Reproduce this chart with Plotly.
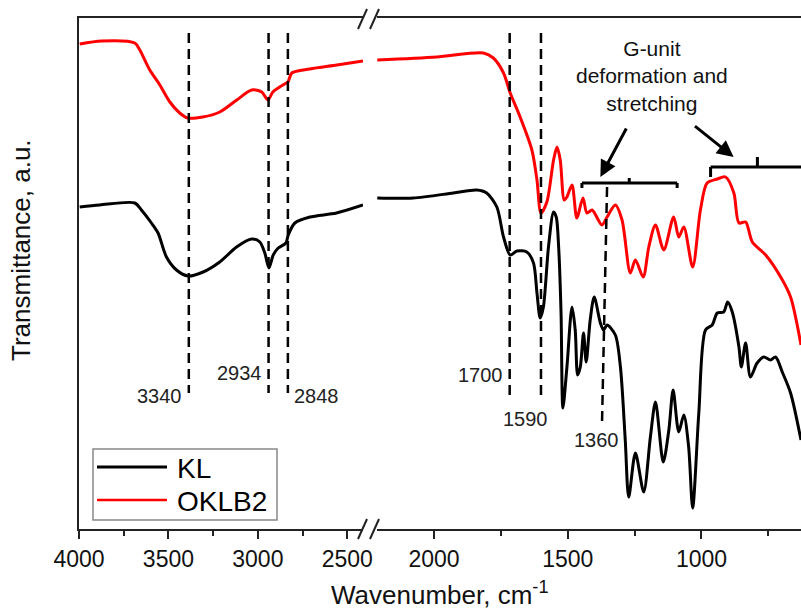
import plotly.graph_objects as go

# ---------------- data (wavenumber cm-1, transmittance a.u.) ----------------
KL_LEFT_WN = [3996, 3884, 3688, 3651, 3595, 3558, 3511, 3455, 3390, 3306, 3213, 3119, 3035,
              2989, 2961, 2938, 2914, 2886, 2843, 2830, 2793, 2709, 2560, 2412]
KL_LEFT_T = [321, 323, 325, 318, 305, 295, 271, 258, 252, 256, 266, 281, 289,
             286, 275, 260, 273, 280, 285, 293, 305, 311, 315, 323]

OK_LEFT_WN = [3996, 3873, 3688, 3660, 3604, 3548, 3492, 3437, 3392, 3308, 3213, 3118, 3034,
              2978, 2944, 2916, 2860, 2832, 2810, 2710, 2558, 2412]
OK_LEFT_T = [484, 487, 485, 478, 458, 443, 426, 415, 410, 411, 416, 428, 438,
             436, 428, 436, 443, 446, 455, 459, 463, 467]

KL_RIGHT_WN = [2212, 2078, 1928, 1840, 1803, 1765, 1740, 1715, 1690, 1653, 1628, 1615, 1603,
               1591, 1572, 1553, 1543, 1534, 1525, 1518, 1503, 1484, 1472, 1463, 1453, 1441,
               1431, 1416, 1401, 1378, 1366, 1353, 1322, 1303, 1285, 1272, 1247, 1216, 1191,
               1172, 1143, 1122, 1106, 1085, 1066, 1048, 1033, 1010, 985, 960, 941, 917, 902,
               885, 860, 851, 835, 817, 792, 767, 742, 723, 698, 667, 628]
KL_RIGHT_T = [330, 330, 335, 338, 335, 321, 291, 273, 277, 276, 265, 235, 210,
              221, 281, 316, 311, 281, 215, 120, 161, 221, 198, 153, 161, 195,
              166, 208, 231, 205, 198, 203, 193, 161, 88, 31, 75, 36, 91,
              126, 66, 98, 138, 96, 113, 81, 20, 115, 198, 203, 215, 216, 226,
              216, 181, 161, 185, 151, 165, 171, 168, 171, 156, 135, 88]

OK_RIGHT_WN = [2212, 1990, 1815, 1778, 1740, 1715, 1678, 1634, 1615, 1600, 1578, 1553, 1540,
               1528, 1513, 1503, 1484, 1466, 1443, 1428, 1409, 1372, 1353, 1322, 1297, 1266,
               1247, 1218, 1197, 1172, 1141, 1104, 1085, 1066, 1033, 1004, 979, 941, 910,
               879, 860, 835, 810, 760, 704, 667, 628]
OK_RIGHT_T = [468, 471, 475, 470, 455, 435, 411, 378, 348, 315, 326, 368, 381,
              368, 328, 331, 343, 310, 330, 315, 318, 303, 311, 323, 308, 255,
              268, 251, 281, 303, 278, 311, 291, 301, 261, 318, 345, 349, 351,
              335, 305, 306, 286, 273, 251, 231, 183]

SERIES = ["KL", "OKLB2"]
COLORS = ["#000000", "#ff0000"]

LEFT_TICKS = [4000, 3500, 3000, 2500]
LEFT_MINOR = [3750, 3250, 2750]
RIGHT_TICKS = [2000, 1500, 1000]
RIGHT_MINOR = [1750, 1250, 750]
LEFT_RANGE = [4000, 2412]
RIGHT_RANGE = [2213, 628]
Y_RANGE = [-1, 510]

# marker lines: (wavenumber top, wavenumber bottom, T top, T bottom, axis)
VLINES = [(3386, 3386, 495, 135, "x"), (2940, 2940, 495, 135, "x"), (2832, 2832, 495, 135, "x"),
          (1717, 1717, 495, 133, "x2"), (1600, 1600, 495, 133, "x2"), (1353, 1372, 341, 103, "x2")]
# labels: text, wn, T, axis, xanchor, xshift
PEAK_LABELS = [("3340", 3386, 132, "x", "right", -5), ("2934", 2940, 155, "x", "right", -5),
               ("2848", 2832, 132, "x", "left", 4), ("1700", 1717, 153, "x2", "right", -5),
               ("1590", 1659, 109, "x2", "center", 0), ("1360", 1393, 88, "x2", "center", 0)]

FONT = "Arial, Liberation Sans, sans-serif"

L0, PW, T0, PH = 79, 722, 18, 511   # plot area in px


def px(x):
    return (x - L0) / PW


def py(y):
    return (T0 + PH - y) / PH


fig = go.Figure()
fig.add_trace(go.Scatter(x=OK_LEFT_WN, y=OK_LEFT_T, xaxis="x", yaxis="y", mode="lines",
                         line=dict(color=COLORS[1], width=3, shape="spline", smoothing=0.8),
                         name=SERIES[1], showlegend=False))
fig.add_trace(go.Scatter(x=OK_RIGHT_WN, y=OK_RIGHT_T, xaxis="x2", yaxis="y", mode="lines",
                         line=dict(color=COLORS[1], width=3, shape="spline", smoothing=0.8),
                         name=SERIES[1], showlegend=False))
fig.add_trace(go.Scatter(x=KL_LEFT_WN, y=KL_LEFT_T, xaxis="x", yaxis="y", mode="lines",
                         line=dict(color=COLORS[0], width=3, shape="spline", smoothing=0.8),
                         name=SERIES[0], showlegend=False))
fig.add_trace(go.Scatter(x=KL_RIGHT_WN, y=KL_RIGHT_T, xaxis="x2", yaxis="y", mode="lines",
                         line=dict(color=COLORS[0], width=3, shape="spline", smoothing=0.8),
                         name=SERIES[0], showlegend=False))

shapes = []
for x0, x1, y0, y1, ax in VLINES:
    shapes.append(dict(type="line", xref=ax, yref="y", x0=x0, x1=x1, y0=y0, y1=y1,
                       line=dict(color="black", width=2.5, dash="10px,6px")))

# brackets
BR_COLOR = "black"
for (xa, xb, yb, ytick_end, xc, yc_top) in [(1447, 1091, 345, 340, 1270, 350), (966, 628, 361, 351, 791, 371)]:
    shapes.append(dict(type="line", xref="x2", yref="y", x0=xa, x1=xb, y0=yb, y1=yb,
                       line=dict(color=BR_COLOR, width=3)))
    shapes.append(dict(type="line", xref="x2", yref="y", x0=xa, x1=xa, y0=yb, y1=ytick_end,
                       line=dict(color=BR_COLOR, width=3)))
    if xb > 700:
        shapes.append(dict(type="line", xref="x2", yref="y", x0=xb, x1=xb, y0=yb, y1=ytick_end,
                           line=dict(color=BR_COLOR, width=3)))
    shapes.append(dict(type="line", xref="x2", yref="y", x0=xc, x1=xc, y0=yb, y1=yc_top,
                       line=dict(color=BR_COLOR, width=3)))

# axis break marks
for (xs, yb, yt) in [(358, 539, 519), (370, 539, 519), (358, 29, 9), (370, 29, 9)]:
    shapes.append(dict(type="line", xref="paper", yref="paper", x0=px(xs), x1=px(xs + 9),
                       y0=py(yb), y1=py(yt), line=dict(color="#222", width=2)))

# custom legend
shapes.append(dict(type="rect", xref="paper", yref="paper", x0=px(93), x1=px(277),
                   y0=py(520), y1=py(449), line=dict(color="#888", width=1.5),
                   fillcolor="white", layer="above"))
annotations = []
for i, (name, col) in enumerate(zip(SERIES, COLORS)):
    yy = 467 + 33 * i
    shapes.append(dict(type="line", xref="paper", yref="paper", x0=px(97), x1=px(167),
                       y0=py(yy), y1=py(yy), line=dict(color=col, width=3 if i == 0 else 2.5),
                       layer="above"))
    annotations.append(dict(text=name, xref="paper", yref="paper", x=px(175), y=py(yy + 1),
                            xanchor="left", yanchor="middle", showarrow=False,
                            font=dict(family=FONT, size=28, color="black")))

for text, wn, t, ax, xanc, xsh in PEAK_LABELS:
    annotations.append(dict(text=text, xref=ax, yref="y", x=wn, y=t, xanchor=xanc,
                            yanchor="middle", xshift=xsh, showarrow=False,
                            font=dict(family=FONT, size=20, color="#222")))

annotations.append(dict(text="G-unit<br>deformation and<br>stretching", xref="x2", yref="y",
                        x=1185, y=452, xanchor="center", yanchor="middle", showarrow=False,
                        font=dict(family=FONT, size=21, color="#111")))
for (tx, ty, hx, hy) in [(1278, 401, 1378, 351), (1030, 403, 880, 371)]:
    annotations.append(dict(text="", xref="x2", yref="y", x=hx, y=hy, axref="x2", ayref="y",
                            ax=tx, ay=ty, showarrow=True, arrowhead=2, arrowsize=1.1,
                            arrowwidth=3, arrowcolor="black"))

annotations.append(dict(text="Wavenumber, cm<sup>-1</sup>", xref="paper", yref="paper",
                        x=0.5, y=py(611.5), xanchor="center", yanchor="bottom", showarrow=False,
                        font=dict(family=FONT, size=26, color="#111")))
annotations.append(dict(text="Transmittance, a.u.", xref="paper", yref="paper",
                        x=px(21), y=py(250), xanchor="center", yanchor="middle", textangle=-90,
                        showarrow=False, font=dict(family=FONT, size=26, color="#111")))

axis_common = dict(showgrid=False, zeroline=False, showline=True, linecolor="#222", linewidth=2,
                   mirror=True, ticks="outside", ticklen=8, tickwidth=2, tickcolor="#222",
                   tickfont=dict(family=FONT, size=23, color="#111"))

fig.update_layout(
    width=801, height=611,
    autosize=False,
    margin=dict(l=L0, r=0, t=T0, b=611 - T0 - PH, pad=0, autoexpand=False),
    paper_bgcolor="white", plot_bgcolor="white",
    showlegend=False,
    xaxis=dict(domain=[0, px(363)], range=LEFT_RANGE, tickvals=LEFT_TICKS, anchor="y",
               automargin=False,
               minor=dict(tickvals=LEFT_MINOR, ticks="outside", ticklen=5, tickwidth=2,
                          tickcolor="#222"), **axis_common),
    xaxis2=dict(domain=[px(377), 1], range=RIGHT_RANGE, tickvals=RIGHT_TICKS, anchor="y",
                automargin=False,
                minor=dict(tickvals=RIGHT_MINOR, ticks="outside", ticklen=5, tickwidth=2,
                           tickcolor="#222"), **axis_common),
    yaxis=dict(range=Y_RANGE, showgrid=False, zeroline=False, showline=True, linecolor="#222",
               linewidth=2, showticklabels=False, ticks="", anchor="x", automargin=False),
    shapes=shapes,
    annotations=annotations,
)

fig.write_html("out.html")
